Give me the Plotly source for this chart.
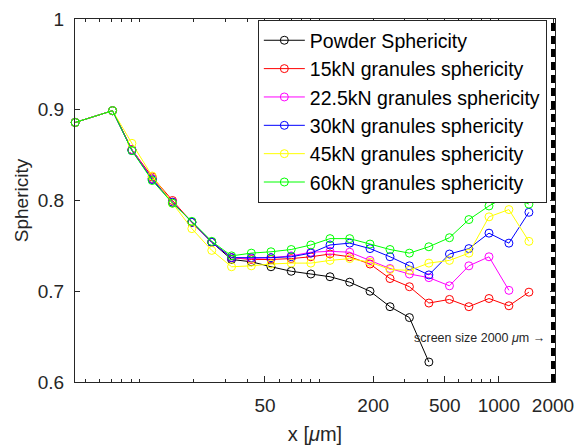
import plotly.graph_objects as go

# ---- data ----
x_um = [4.4, 7.1, 9.1, 11.8, 15.3, 19.6, 25.3, 32.6, 42, 54, 70, 90, 115, 148,
        192, 248, 318, 408, 531, 681, 881, 1137, 1469]

powder = [0.886, 0.899, 0.856, 0.824, 0.798, 0.776, 0.754, 0.735, 0.7325, 0.727,
          0.722, 0.719, 0.716, 0.710, 0.700, 0.683, 0.671, 0.622]
kn15 = [0.886, 0.899, 0.856, 0.826, 0.800, 0.776, 0.754, 0.737, 0.735, 0.735,
        0.736, 0.738, 0.741, 0.738, 0.730, 0.714, 0.705, 0.687, 0.691, 0.683,
        0.692, 0.684, 0.699]
kn22_5 = [0.886, 0.899, 0.856, 0.824, 0.798, 0.776, 0.754, 0.737, 0.736, 0.737,
          0.739, 0.743, 0.744, 0.743, 0.734, 0.725, 0.719, 0.715, 0.706, 0.728,
          0.738, 0.701]
kn30 = [0.886, 0.899, 0.855, 0.823, 0.798, 0.776, 0.754, 0.737, 0.737, 0.737,
        0.738, 0.742, 0.751, 0.753, 0.747, 0.738, 0.728, 0.718, 0.741, 0.747,
        0.764, 0.753, 0.787]
kn45 = [0.886, 0.899, 0.863, 0.827, 0.797, 0.769, 0.745, 0.727, 0.728, 0.730,
        0.731, 0.731, 0.734, 0.736, 0.732, 0.724, 0.723, 0.731, 0.734, 0.742,
        0.782, 0.790, 0.755]
kn60 = [0.886, 0.899, 0.855, 0.822, 0.797, 0.777, 0.755, 0.739, 0.742, 0.7435,
        0.746, 0.751, 0.758, 0.758, 0.752, 0.746, 0.742, 0.749, 0.759, 0.779,
        0.794, 0.806, 0.796]

series_names = ["Powder Sphericity", "15kN granules sphericity",
                "22.5kN granules sphericity", "30kN granules sphericity",
                "45kN granules sphericity", "60kN granules sphericity"]
series_values = [powder, kn15, kn22_5, kn30, kn45, kn60]
series_colors = ["#000000", "#FF0000", "#FF00FF", "#0000FF", "#FFFF00", "#00FF00"]

screen_size = 2000
x_tick_vals = [50, 200, 500, 1000, 2000]
x_tick_text = ["50", "200", "500", "1000", "2000"]
y_tick_vals = [0.6, 0.7, 0.8, 0.9, 1.0]
y_tick_text = ["0.6", "0.7", "0.8", "0.9", "1"]

minor_vals = [m * 10 ** e for e in range(0, 4) for m in range(1, 10)
              if 4 <= m * 10 ** e <= 2000 and m * 10 ** e not in x_tick_vals]

FONT = "Liberation Sans, Arial, Helvetica, sans-serif"
AX = "#262626"

fig = go.Figure()
for name, vals, col in zip(series_names, series_values, series_colors):
    fig.add_trace(go.Scatter(
        x=x_um[:len(vals)], y=vals, name=name, mode="lines+markers",
        line=dict(color=col, width=1),
        marker=dict(symbol="circle-open", size=8, color=col, line=dict(width=1)),
        cliponaxis=False,
    ))

fig.add_shape(type="line", xref="x", yref="paper", x0=screen_size, x1=screen_size,
              y0=0, y1=1, line=dict(color="black", width=4, dash="8px,5px"),
              layer="above")

fig.add_annotation(x=3.301, xref="x", y=0.649, yref="y", showarrow=False,
                   text="screen size 2000 <i>μ</i>m →", xanchor="right", xshift=-6,
                   font=dict(family=FONT, size=12.5, color=AX))

fig.update_layout(
    width=581, height=448,
    margin=dict(l=75, r=26, t=19, b=66, autoexpand=False),
    paper_bgcolor="white", plot_bgcolor="white",
    font=dict(family=FONT, size=19, color=AX),
    showlegend=True,
    legend=dict(x=0.983, xanchor="right", y=0.997, yanchor="top",
                bgcolor="white", bordercolor=AX, borderwidth=1,
                font=dict(family=FONT, size=19.5, color="black"),
                tracegroupgap=0, itemwidth=41),
    xaxis=dict(
        type="log", range=[0.6425, 3.3121], automargin=False,
        tickmode="array", tickvals=x_tick_vals, ticktext=x_tick_text,
        ticks="inside", ticklen=6, tickcolor=AX, tickwidth=1,
        minor=dict(tickmode="array", tickvals=minor_vals, ticks="inside",
                   ticklen=3, tickcolor=AX, tickwidth=1),
        showline=True, linecolor=AX, linewidth=1, mirror="allticks",
        showgrid=False, zeroline=False,
        tickfont=dict(size=19, color=AX), ticklabelstandoff=6,
        title=dict(text="x [<i>μ</i>m]", font=dict(size=20, color=AX), standoff=12),
    ),
    yaxis=dict(
        range=[0.6, 1.0], automargin=False,
        tickmode="array", tickvals=y_tick_vals, ticktext=y_tick_text,
        ticks="inside", ticklen=5, tickcolor=AX, tickwidth=1,
        showline=True, linecolor=AX, linewidth=1, mirror="allticks",
        showgrid=False, zeroline=False,
        tickfont=dict(size=19, color=AX), ticklabelstandoff=6,
        title=dict(text="Sphericity", font=dict(size=19, color=AX), standoff=4),
    ),
)

fig.write_html("out.html")
